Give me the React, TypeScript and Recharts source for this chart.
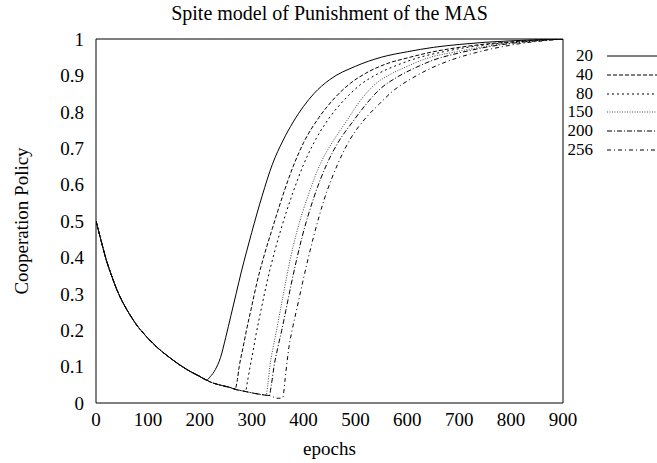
import { LineChart, Line, XAxis, YAxis, Legend } from "recharts";

const FONT = "'Liberation Serif', 'Times New Roman', serif";

const xTicks = [0, 100, 200, 300, 400, 500, 600, 700, 800, 900];
const yTicks = [0, 0.1, 0.2, 0.3, 0.4, 0.5, 0.6, 0.7, 0.8, 0.9, 1];

// shared decay before each run takes off
const decayEpoch = [0, 10, 20, 30, 40, 50, 60, 70, 80, 90, 100, 120, 140, 160, 180, 200, 213, 220, 240, 260, 270, 280, 290, 300, 320, 330, 340, 350];
const decayValue = [0.5, 0.445, 0.392, 0.35, 0.312, 0.281, 0.255, 0.232, 0.211, 0.194, 0.178, 0.15, 0.127, 0.106, 0.088, 0.073, 0.063, 0.058, 0.049, 0.042, 0.037, 0.034, 0.031, 0.028, 0.023, 0.021, 0.019, 0.017];

const rise20Epoch = [213, 220, 230, 240, 250, 260, 270, 280, 290, 300, 320, 340, 360, 380, 400, 420, 450, 500, 550, 600, 650, 700, 750, 800, 850, 900];
const rise20Value = [0.063, 0.072, 0.092, 0.125, 0.18, 0.24, 0.3, 0.36, 0.415, 0.468, 0.568, 0.656, 0.72, 0.772, 0.815, 0.85, 0.888, 0.925, 0.95, 0.965, 0.977, 0.985, 0.991, 0.995, 0.998, 1.0];

const rise40Epoch = [268, 272, 276, 283, 290, 300, 310, 325, 340, 360, 380, 400, 430, 460, 490, 520, 560, 600, 650, 700, 750, 800, 850, 900];
const rise40Value = [0.038, 0.06, 0.1, 0.15, 0.2, 0.265, 0.33, 0.41, 0.48, 0.57, 0.65, 0.715, 0.785, 0.838, 0.878, 0.906, 0.932, 0.948, 0.965, 0.977, 0.986, 0.992, 0.997, 1.0];

const rise80Epoch = [288, 292, 297, 303, 308, 318, 330, 345, 356, 380, 400, 420, 448, 480, 510, 540, 580, 620, 670, 720, 770, 820, 860, 900];
const rise80Value = [0.032, 0.06, 0.1, 0.145, 0.185, 0.255, 0.335, 0.42, 0.475, 0.58, 0.655, 0.715, 0.78, 0.835, 0.875, 0.902, 0.928, 0.948, 0.965, 0.978, 0.987, 0.993, 0.997, 1.0];

const rise150Epoch = [328, 331, 335, 341, 348, 355, 366, 375, 387, 410, 435, 455, 483, 510, 535, 570, 600, 640, 695, 740, 790, 840, 900];
const rise150Value = [0.022, 0.05, 0.1, 0.15, 0.2, 0.253, 0.335, 0.4, 0.47, 0.575, 0.665, 0.715, 0.775, 0.832, 0.872, 0.905, 0.925, 0.948, 0.965, 0.977, 0.988, 0.995, 1.0];

const rise200Epoch = [334, 338, 343, 350, 358, 366, 376, 386, 397, 420, 446, 465, 496, 520, 547, 580, 611, 650, 704, 750, 800, 850, 900];
const rise200Value = [0.021, 0.05, 0.1, 0.15, 0.2, 0.255, 0.325, 0.39, 0.455, 0.565, 0.66, 0.712, 0.775, 0.82, 0.862, 0.895, 0.918, 0.942, 0.963, 0.977, 0.988, 0.995, 1.0];

const rise256Epoch = [338, 345, 352, 360, 364, 368, 372, 378, 388, 398, 419, 440, 467, 490, 518, 545, 573, 610, 643, 690, 733, 780, 830, 870, 900];
const rise256Value = [0.02, 0.014, 0.013, 0.015, 0.06, 0.11, 0.155, 0.2, 0.265, 0.33, 0.455, 0.56, 0.66, 0.725, 0.78, 0.82, 0.858, 0.893, 0.918, 0.945, 0.963, 0.978, 0.99, 0.996, 1.0];

function buildSeries(riseEpoch: number[], riseValue: number[]) {
  const start = riseEpoch[0];
  const pts: { epoch: number; value: number }[] = [];
  decayEpoch.forEach((e, i) => {
    if (e < start) pts.push({ epoch: e, value: decayValue[i] });
  });
  riseEpoch.forEach((e, i) => pts.push({ epoch: e, value: riseValue[i] }));
  return pts;
}

const series = [
  { name: "20", data: buildSeries(rise20Epoch, rise20Value), dash: undefined, color: "#000" },
  { name: "40", data: buildSeries(rise40Epoch, rise40Value), dash: "4 2", color: "#000" },
  { name: "80", data: buildSeries(rise80Epoch, rise80Value), dash: "2 3", color: "#000" },
  { name: "150", data: buildSeries(rise150Epoch, rise150Value), dash: "1 1.5", color: "#444" },
  { name: "200", data: buildSeries(rise200Epoch, rise200Value), dash: "5 2 1 2", color: "#000" },
  { name: "256", data: buildSeries(rise256Epoch, rise256Value), dash: "4 3 1 3", color: "#000" },
];

const tickStyle = { fontSize: 19, fill: "#000", fontFamily: FONT };
const labelStyle = { fontSize: 19, fill: "#000", fontFamily: FONT };

const LegendBox = () => (
  <div style={{ width: 97, fontFamily: FONT, fontSize: 17, color: "#000" }}>
    {series.map((s) => (
      <div key={s.name} style={{ display: "flex", alignItems: "center", height: 18.7 }}>
        <span style={{ width: 33, textAlign: "right", lineHeight: "18px" }}>{s.name}</span>
        <svg width={50} height={10} style={{ marginLeft: 14 }}>
          <line x1={0} y1={5} x2={50} y2={5} stroke={s.color} strokeWidth={1} strokeDasharray={s.dash} />
        </svg>
      </div>
    ))}
  </div>
);

export default function App() {
  return (
    <div style={{ position: "absolute", left: 0, top: 0, width: 657, height: 463, background: "#fff" }}>
      <div
        style={{
          position: "absolute",
          top: 2,
          left: 96,
          width: 467,
          textAlign: "center",
          fontFamily: FONT,
          fontSize: 20,
          lineHeight: "23px",
          color: "#000",
        }}
      >
        Spite model of Punishment of the MAS
      </div>
      <LineChart width={657} height={463} margin={{ top: 39, right: 94, bottom: 5, left: 0 }}>
        <XAxis
          xAxisId="x"
          type="number"
          dataKey="epoch"
          domain={[0, 900]}
          ticks={xTicks}
          allowDataOverflow
          height={55}
          tickLine={false}
          tickSize={0}
          tickMargin={10}
          tick={tickStyle}
          axisLine={{ stroke: "#000" }}
          label={{ value: "epochs", position: "insideBottom", offset: 3, style: labelStyle }}
        />
        <XAxis xAxisId="xb" type="number" orientation="bottom" mirror domain={[0, 900]} ticks={xTicks} allowDataOverflow tick={false} tickSize={6} axisLine={false} tickLine={{ stroke: "#000" }} />
        <XAxis xAxisId="xt" type="number" orientation="top" mirror domain={[0, 900]} ticks={xTicks} allowDataOverflow tick={false} tickSize={6} axisLine={{ stroke: "#000" }} tickLine={{ stroke: "#000" }} />
        <YAxis
          yAxisId="y"
          type="number"
          domain={[0, 1]}
          ticks={yTicks}
          allowDataOverflow
          width={96}
          tickLine={false}
          tickSize={0}
          tickMargin={12}
          tick={tickStyle}
          axisLine={{ stroke: "#000" }}
          label={{
            value: "Cooperation Policy",
            angle: -90,
            position: "insideLeft",
            offset: 21,
            style: { ...labelStyle, textAnchor: "middle" },
          }}
        />
        <YAxis yAxisId="yl" type="number" orientation="left" mirror domain={[0, 1]} ticks={yTicks} allowDataOverflow tick={false} tickSize={6} axisLine={false} tickLine={{ stroke: "#000" }} />
        <YAxis yAxisId="yr" type="number" orientation="right" mirror domain={[0, 1]} ticks={yTicks} allowDataOverflow tick={false} tickSize={6} axisLine={{ stroke: "#000" }} tickLine={{ stroke: "#000" }} />
        <Legend
          layout="vertical"
          align="center"
          verticalAlign="middle"
          content={<LegendBox />}
          wrapperStyle={{ left: 560, top: 47, width: 97 }}
        />
        {series.map((s) => (
          <Line
            key={s.name}
            xAxisId="x"
            yAxisId="y"
            data={s.data}
            dataKey="value"
            name={s.name}
            type="monotone"
            stroke={s.color}
            strokeWidth={1}
            strokeDasharray={s.dash}
            dot={false}
            activeDot={false}
            isAnimationActive={false}
          />
        ))}
      </LineChart>
    </div>
  );
}
